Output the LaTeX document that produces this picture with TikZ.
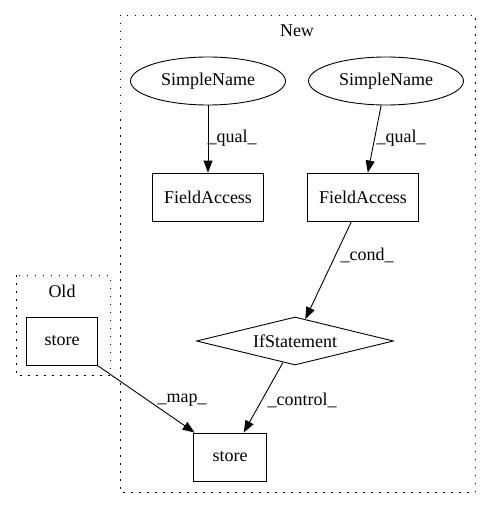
\documentclass[tikz,border=0pt]{standalone}
\usepackage{fontspec}
\setmainfont{Liberation Serif}
\usetikzlibrary{arrows.meta,shapes.geometric}
\begin{document}
\begin{tikzpicture}[x=1pt, y=-1pt,
  every node/.style={font=\fontsize{18pt}{21pt}\selectfont, inner sep=0pt},
  box/.style={draw, line width=0.9pt, rectangle, minimum height=48pt},
  oval/.style={draw, line width=0.9pt, ellipse, minimum width=155pt, minimum height=48pt},
  cond/.style={draw, line width=0.9pt, diamond, aspect=4.1, minimum width=197pt, minimum height=48pt},
  edge/.style={draw, line width=0.9pt, -{Triangle[length=12pt,width=9pt]}},
  cluster/.style={draw, line width=0.9pt, dash pattern=on 1.5pt off 6.5pt}]
\useasboundingbox (0,0) rectangle (491,508);
% clusters
\path[cluster] (16,275) rectangle (110,375);
\node (oldlabel) at (62,291) {Old};
\path[cluster] (120,15) rectangle (475,492);
\node (newlabel) at (297,31) {New};
% nodes
\node[oval] (sn1) at (208,81) {SimpleName};
\node[oval] (sn2) at (386,81) {SimpleName};
\node[box, minimum width=111pt] (fa1) at (208,197) {FieldAccess};
\node[box, minimum width=111pt] (fa2) at (363,197) {FieldAccess};
\node[cond] (if) at (295,341) {IfStatement};
\node[box, minimum width=73pt] (st) at (230,457) {store};
\node[box, minimum width=71pt] (old) at (62,341) {store};
% edges
\path[edge] (sn1) -- (fa1);
\path[edge] (sn2) -- (fa2);
\path[edge] (fa2) -- (if);
\path[edge] (if) -- (st);
\path[edge] (old) -- (st);
% edge labels
\node (q1) at (232,138) {\_qual\_};
\node (q2) at (401,138) {\_qual\_};
\node (c1) at (367,255) {\_cond\_};
\node (c2) at (302,400) {\_control\_};
\node (m1) at (182,400) {\_map\_};
\end{tikzpicture}
\end{document}
